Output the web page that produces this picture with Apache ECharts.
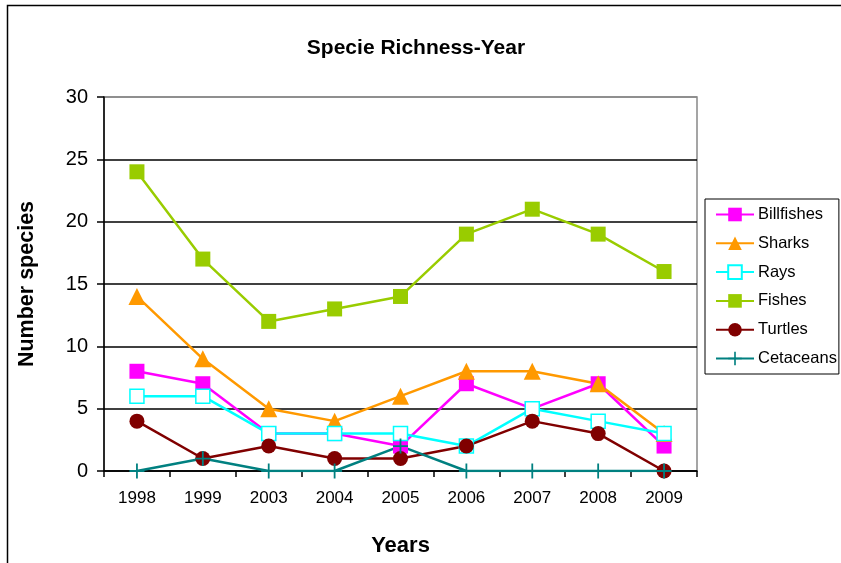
<!DOCTYPE html>
<html>
<head>
<meta charset="utf-8">
<script src="https://cdn.jsdelivr.net/npm/echarts@6/dist/echarts.min.js"></script>
<style>
  html, body { margin: 0; padding: 0; background: #fff; }
  #chart { width: 841px; height: 563px; }
</style>
</head>
<body>
<div id="chart"></div>
<script>
// Survey years and species counts per group
const years = ['1998', '1999', '2003', '2004', '2005', '2006', '2007', '2008', '2009'];
const billfishes = [8, 7, 3, 3, 2, 7, 5, 7, 2];
const sharks     = [14, 9, 5, 4, 6, 8, 8, 7, 3];
const rays       = [6, 6, 3, 3, 3, 2, 5, 4, 3];
const fishes     = [24, 17, 12, 13, 14, 19, 21, 19, 16];
const turtles    = [4, 1, 2, 1, 1, 2, 4, 3, 0];
const cetaceans  = [0, 1, 0, 0, 2, 0, 0, 0, 0];

const FONT = 'Arial, "Liberation Sans", sans-serif';
const PLUS = 'path://M-0.12,-1h0.24v0.88h0.88v0.24h-0.88v0.88h-0.24v-0.88h-0.88v-0.24h0.88z';

function lineSeries(name, data, color, symbol, size, extra) {
  return Object.assign({
    name, type: 'line', data,
    symbol, symbolSize: size,
    lineStyle: { color, width: 2.5 },
    itemStyle: { color, borderColor: color, borderWidth: 0 },
    emphasis: { disabled: true },
    animation: false
  }, extra || {});
}

const chart = echarts.init(document.getElementById('chart'), null, { renderer: 'canvas' });
chart.setOption({
  backgroundColor: '#fff',
  animation: false,
  title: {
    text: 'Specie Richness-Year',
    left: 411, top: 33, textAlign: 'center',
    textStyle: { fontFamily: FONT, fontSize: 21, fontWeight: 'bold', color: '#000' }
  },
  graphic: [{
    type: 'rect', silent: true, z: -1,
    shape: { x: 7.5, y: 5.5, width: 900, height: 600 },
    style: { fill: 'none', stroke: '#000', lineWidth: 1.5 }
  }],
  grid: {
    left: 104, top: 97, width: 593, height: 374,
    outerBoundsMode: 'none',
    containLabel: false,
    show: true, borderColor: '#888', borderWidth: 1.5, backgroundColor: 'transparent'
  },
  legend: {
    orient: 'vertical',
    left: 705, top: 199,
    padding: [7, 2, 7, 10],
    itemGap: 11.8,
    itemWidth: 38, itemHeight: 17,
    borderColor: '#000', borderWidth: 1,
    textStyle: { fontFamily: FONT, fontSize: 16.5, color: '#000', padding: [0, 0, 0, -1] },
    data: ['Billfishes', 'Sharks', 'Rays', 'Fishes', 'Turtles', 'Cetaceans']
  },
  xAxis: {
    type: 'category',
    data: years,
    boundaryGap: true,
    name: 'Years',
    nameLocation: 'middle',
    nameGap: 64,
    nameTextStyle: { fontFamily: FONT, fontSize: 22, fontWeight: 'bold', color: '#000' },
    axisLine: { lineStyle: { color: '#000', width: 1.5 } },
    axisTick: { show: true, length: 6, interval: 0, lineStyle: { color: '#000', width: 1.5 } },
    axisLabel: { fontFamily: FONT, fontSize: 17, color: '#000', margin: 19 },
    splitLine: { show: false }
  },
  yAxis: {
    type: 'value',
    min: 0, max: 30, interval: 5,
    name: 'Number species',
    nameLocation: 'middle',
    nameGap: 66,
    nameRotate: 90,
    nameTextStyle: { fontFamily: FONT, fontSize: 21.5, fontWeight: 'bold', color: '#000' },
    axisLine: { show: true, lineStyle: { color: '#000', width: 1.5 } },
    axisTick: { show: true, length: 7, lineStyle: { color: '#000', width: 1.5 } },
    axisLabel: { fontFamily: FONT, fontSize: 20, color: '#000', margin: 16 },
    splitLine: { show: true, lineStyle: { color: ['#000', '#000', '#000', '#000', '#000', '#000', '#888'], width: 1.5 } }
  },
  series: [
    lineSeries('Billfishes', billfishes, '#FF00FF', 'rect', 15),
    lineSeries('Sharks', sharks, '#FF9900', 'triangle', 17),
    lineSeries('Rays', rays, '#00FFFF', 'rect', 14, {
      itemStyle: { color: '#fff', borderColor: '#00FFFF', borderWidth: 1.5 }
    }),
    lineSeries('Fishes', fishes, '#99CC00', 'rect', 15),
    lineSeries('Turtles', turtles, '#800000', 'circle', 15),
    lineSeries('Cetaceans', cetaceans, '#008080', PLUS, 15)
  ]
});
</script>
</body>
</html>
